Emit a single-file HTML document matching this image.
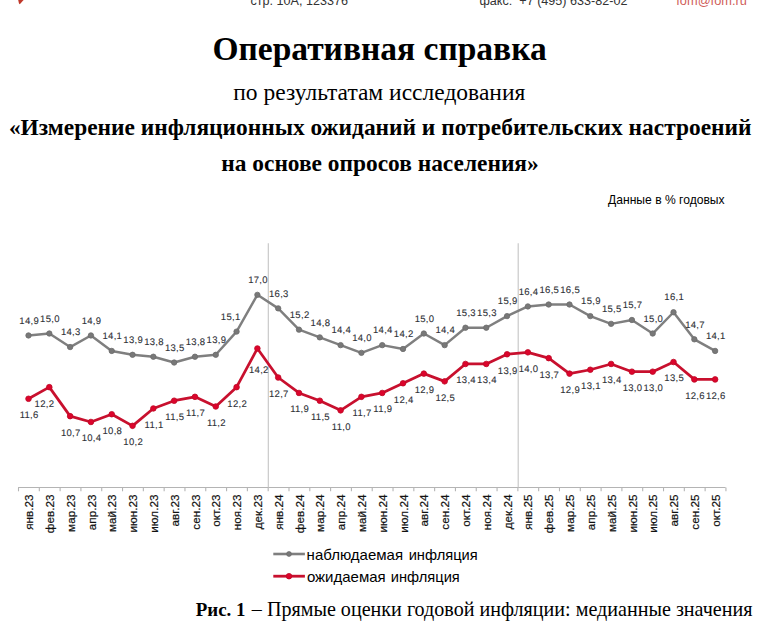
<!DOCTYPE html>
<html><head><meta charset="utf-8"><style>
html,body{margin:0;padding:0;background:#fff;}
body{width:773px;height:630px;overflow:hidden;position:relative;}
svg{position:absolute;left:0;top:0;}
</style></head><body>
<svg width="773" height="630" viewBox="0 0 773 630">
<rect width="773" height="630" fill="#fff"/>
<polygon points="18.2,0 23.6,0 19.8,4.2 19.0,3.6" fill="#c0392b"/>
<g font-family="&quot;Liberation Sans&quot;, sans-serif" font-size="12.6" fill="#333">
<text x="250.5" y="4.8">стр. 10А, 123376</text>
<text x="479.5" y="4.7">факс:&#160; +7 (495) 633-82-02</text>
</g>
<text x="676.3" y="4.7" font-family="&quot;Liberation Sans&quot;, sans-serif" font-size="12.8" fill="#d0605a">fom@fom.ru</text>
<g font-family="&quot;Liberation Serif&quot;, serif" fill="#000" text-anchor="middle">
<text x="379.6" y="60.3" font-size="33.5" font-weight="bold">Оперативная справка</text>
<text x="379.3" y="99.9" font-size="23.5">по результатам исследования</text>
<text x="380.2" y="135.3" font-size="23.4" font-weight="bold">«Измерение инфляционных ожиданий и потребительских настроений</text>
<text x="380.0" y="170.8" font-size="23.4" font-weight="bold">на основе опросов населения»</text>
</g>
<text x="724.6" y="204.2" font-family="&quot;Liberation Sans&quot;, sans-serif" font-size="12.1" fill="#000" text-anchor="end">Данные в % годовых</text>
<line x1="18.1" y1="487.5" x2="725.54" y2="487.5" stroke="#b4b4b4" stroke-width="1.2"/>
<line x1="18.50" y1="487.5" x2="18.50" y2="491.3" stroke="#b4b4b4" stroke-width="1.1"/>
<line x1="39.31" y1="487.5" x2="39.31" y2="491.3" stroke="#b4b4b4" stroke-width="1.1"/>
<line x1="60.11" y1="487.5" x2="60.11" y2="491.3" stroke="#b4b4b4" stroke-width="1.1"/>
<line x1="80.92" y1="487.5" x2="80.92" y2="491.3" stroke="#b4b4b4" stroke-width="1.1"/>
<line x1="101.73" y1="487.5" x2="101.73" y2="491.3" stroke="#b4b4b4" stroke-width="1.1"/>
<line x1="122.53" y1="487.5" x2="122.53" y2="491.3" stroke="#b4b4b4" stroke-width="1.1"/>
<line x1="143.34" y1="487.5" x2="143.34" y2="491.3" stroke="#b4b4b4" stroke-width="1.1"/>
<line x1="164.15" y1="487.5" x2="164.15" y2="491.3" stroke="#b4b4b4" stroke-width="1.1"/>
<line x1="184.96" y1="487.5" x2="184.96" y2="491.3" stroke="#b4b4b4" stroke-width="1.1"/>
<line x1="205.76" y1="487.5" x2="205.76" y2="491.3" stroke="#b4b4b4" stroke-width="1.1"/>
<line x1="226.57" y1="487.5" x2="226.57" y2="491.3" stroke="#b4b4b4" stroke-width="1.1"/>
<line x1="247.38" y1="487.5" x2="247.38" y2="491.3" stroke="#b4b4b4" stroke-width="1.1"/>
<line x1="268.18" y1="487.5" x2="268.18" y2="491.3" stroke="#b4b4b4" stroke-width="1.1"/>
<line x1="288.99" y1="487.5" x2="288.99" y2="491.3" stroke="#b4b4b4" stroke-width="1.1"/>
<line x1="309.80" y1="487.5" x2="309.80" y2="491.3" stroke="#b4b4b4" stroke-width="1.1"/>
<line x1="330.60" y1="487.5" x2="330.60" y2="491.3" stroke="#b4b4b4" stroke-width="1.1"/>
<line x1="351.41" y1="487.5" x2="351.41" y2="491.3" stroke="#b4b4b4" stroke-width="1.1"/>
<line x1="372.22" y1="487.5" x2="372.22" y2="491.3" stroke="#b4b4b4" stroke-width="1.1"/>
<line x1="393.03" y1="487.5" x2="393.03" y2="491.3" stroke="#b4b4b4" stroke-width="1.1"/>
<line x1="413.83" y1="487.5" x2="413.83" y2="491.3" stroke="#b4b4b4" stroke-width="1.1"/>
<line x1="434.64" y1="487.5" x2="434.64" y2="491.3" stroke="#b4b4b4" stroke-width="1.1"/>
<line x1="455.45" y1="487.5" x2="455.45" y2="491.3" stroke="#b4b4b4" stroke-width="1.1"/>
<line x1="476.25" y1="487.5" x2="476.25" y2="491.3" stroke="#b4b4b4" stroke-width="1.1"/>
<line x1="497.06" y1="487.5" x2="497.06" y2="491.3" stroke="#b4b4b4" stroke-width="1.1"/>
<line x1="517.87" y1="487.5" x2="517.87" y2="491.3" stroke="#b4b4b4" stroke-width="1.1"/>
<line x1="538.67" y1="487.5" x2="538.67" y2="491.3" stroke="#b4b4b4" stroke-width="1.1"/>
<line x1="559.48" y1="487.5" x2="559.48" y2="491.3" stroke="#b4b4b4" stroke-width="1.1"/>
<line x1="580.29" y1="487.5" x2="580.29" y2="491.3" stroke="#b4b4b4" stroke-width="1.1"/>
<line x1="601.10" y1="487.5" x2="601.10" y2="491.3" stroke="#b4b4b4" stroke-width="1.1"/>
<line x1="621.90" y1="487.5" x2="621.90" y2="491.3" stroke="#b4b4b4" stroke-width="1.1"/>
<line x1="642.71" y1="487.5" x2="642.71" y2="491.3" stroke="#b4b4b4" stroke-width="1.1"/>
<line x1="663.52" y1="487.5" x2="663.52" y2="491.3" stroke="#b4b4b4" stroke-width="1.1"/>
<line x1="684.32" y1="487.5" x2="684.32" y2="491.3" stroke="#b4b4b4" stroke-width="1.1"/>
<line x1="705.13" y1="487.5" x2="705.13" y2="491.3" stroke="#b4b4b4" stroke-width="1.1"/>
<line x1="725.94" y1="487.5" x2="725.94" y2="491.3" stroke="#b4b4b4" stroke-width="1.1"/>
<line x1="268.30" y1="243.3" x2="268.30" y2="487.5" stroke="#c4c4c4" stroke-width="1.1"/>
<line x1="518.20" y1="243.3" x2="518.20" y2="487.5" stroke="#c4c4c4" stroke-width="1.1"/>
<polyline points="28.50,335.45 49.31,333.52 70.12,347.06 90.92,335.45 111.73,350.93 132.54,354.80 153.35,356.73 174.15,362.53 194.96,356.73 215.77,354.80 236.57,331.59 257.38,294.84 278.19,308.38 298.99,329.65 319.80,337.39 340.61,345.13 361.42,352.86 382.22,345.13 403.03,348.99 423.84,333.52 444.64,345.13 465.45,327.72 486.26,327.72 507.06,316.11 527.87,306.44 548.68,304.51 569.49,304.51 590.29,316.11 611.10,323.85 631.91,319.98 652.71,333.52 673.52,312.24 694.33,339.32 715.13,350.93" fill="none" stroke="#7f7f7f" stroke-width="2.45" stroke-linejoin="round"/>
<circle cx="28.50" cy="335.45" r="2.7" fill="#787878" stroke="#6c6c6c" stroke-width="0.8"/>
<circle cx="49.31" cy="333.52" r="2.7" fill="#787878" stroke="#6c6c6c" stroke-width="0.8"/>
<circle cx="70.12" cy="347.06" r="2.7" fill="#787878" stroke="#6c6c6c" stroke-width="0.8"/>
<circle cx="90.92" cy="335.45" r="2.7" fill="#787878" stroke="#6c6c6c" stroke-width="0.8"/>
<circle cx="111.73" cy="350.93" r="2.7" fill="#787878" stroke="#6c6c6c" stroke-width="0.8"/>
<circle cx="132.54" cy="354.80" r="2.7" fill="#787878" stroke="#6c6c6c" stroke-width="0.8"/>
<circle cx="153.35" cy="356.73" r="2.7" fill="#787878" stroke="#6c6c6c" stroke-width="0.8"/>
<circle cx="174.15" cy="362.53" r="2.7" fill="#787878" stroke="#6c6c6c" stroke-width="0.8"/>
<circle cx="194.96" cy="356.73" r="2.7" fill="#787878" stroke="#6c6c6c" stroke-width="0.8"/>
<circle cx="215.77" cy="354.80" r="2.7" fill="#787878" stroke="#6c6c6c" stroke-width="0.8"/>
<circle cx="236.57" cy="331.59" r="2.7" fill="#787878" stroke="#6c6c6c" stroke-width="0.8"/>
<circle cx="257.38" cy="294.84" r="2.7" fill="#787878" stroke="#6c6c6c" stroke-width="0.8"/>
<circle cx="278.19" cy="308.38" r="2.7" fill="#787878" stroke="#6c6c6c" stroke-width="0.8"/>
<circle cx="298.99" cy="329.65" r="2.7" fill="#787878" stroke="#6c6c6c" stroke-width="0.8"/>
<circle cx="319.80" cy="337.39" r="2.7" fill="#787878" stroke="#6c6c6c" stroke-width="0.8"/>
<circle cx="340.61" cy="345.13" r="2.7" fill="#787878" stroke="#6c6c6c" stroke-width="0.8"/>
<circle cx="361.42" cy="352.86" r="2.7" fill="#787878" stroke="#6c6c6c" stroke-width="0.8"/>
<circle cx="382.22" cy="345.13" r="2.7" fill="#787878" stroke="#6c6c6c" stroke-width="0.8"/>
<circle cx="403.03" cy="348.99" r="2.7" fill="#787878" stroke="#6c6c6c" stroke-width="0.8"/>
<circle cx="423.84" cy="333.52" r="2.7" fill="#787878" stroke="#6c6c6c" stroke-width="0.8"/>
<circle cx="444.64" cy="345.13" r="2.7" fill="#787878" stroke="#6c6c6c" stroke-width="0.8"/>
<circle cx="465.45" cy="327.72" r="2.7" fill="#787878" stroke="#6c6c6c" stroke-width="0.8"/>
<circle cx="486.26" cy="327.72" r="2.7" fill="#787878" stroke="#6c6c6c" stroke-width="0.8"/>
<circle cx="507.06" cy="316.11" r="2.7" fill="#787878" stroke="#6c6c6c" stroke-width="0.8"/>
<circle cx="527.87" cy="306.44" r="2.7" fill="#787878" stroke="#6c6c6c" stroke-width="0.8"/>
<circle cx="548.68" cy="304.51" r="2.7" fill="#787878" stroke="#6c6c6c" stroke-width="0.8"/>
<circle cx="569.49" cy="304.51" r="2.7" fill="#787878" stroke="#6c6c6c" stroke-width="0.8"/>
<circle cx="590.29" cy="316.11" r="2.7" fill="#787878" stroke="#6c6c6c" stroke-width="0.8"/>
<circle cx="611.10" cy="323.85" r="2.7" fill="#787878" stroke="#6c6c6c" stroke-width="0.8"/>
<circle cx="631.91" cy="319.98" r="2.7" fill="#787878" stroke="#6c6c6c" stroke-width="0.8"/>
<circle cx="652.71" cy="333.52" r="2.7" fill="#787878" stroke="#6c6c6c" stroke-width="0.8"/>
<circle cx="673.52" cy="312.24" r="2.7" fill="#787878" stroke="#6c6c6c" stroke-width="0.8"/>
<circle cx="694.33" cy="339.32" r="2.7" fill="#787878" stroke="#6c6c6c" stroke-width="0.8"/>
<circle cx="715.13" cy="350.93" r="2.7" fill="#787878" stroke="#6c6c6c" stroke-width="0.8"/>
<polyline points="28.50,398.76 49.31,387.16 70.12,416.17 90.92,421.97 111.73,414.24 132.54,425.84 153.35,408.43 174.15,400.70 194.96,396.83 215.77,406.50 236.57,387.16 257.38,348.47 278.19,377.49 298.99,392.96 319.80,400.70 340.61,410.37 361.42,396.83 382.22,392.96 403.03,383.29 423.84,373.62 444.64,381.36 465.45,363.95 486.26,363.95 507.06,354.28 527.87,352.34 548.68,358.14 569.49,373.62 590.29,369.75 611.10,363.95 631.91,371.68 652.71,371.68 673.52,362.01 694.33,379.42 715.13,379.42" fill="none" stroke="#c8102e" stroke-width="2.75" stroke-linejoin="round"/>
<circle cx="28.50" cy="398.76" r="2.8" fill="#dc042c" stroke="#be0a26" stroke-width="0.8"/>
<circle cx="49.31" cy="387.16" r="2.8" fill="#dc042c" stroke="#be0a26" stroke-width="0.8"/>
<circle cx="70.12" cy="416.17" r="2.8" fill="#dc042c" stroke="#be0a26" stroke-width="0.8"/>
<circle cx="90.92" cy="421.97" r="2.8" fill="#dc042c" stroke="#be0a26" stroke-width="0.8"/>
<circle cx="111.73" cy="414.24" r="2.8" fill="#dc042c" stroke="#be0a26" stroke-width="0.8"/>
<circle cx="132.54" cy="425.84" r="2.8" fill="#dc042c" stroke="#be0a26" stroke-width="0.8"/>
<circle cx="153.35" cy="408.43" r="2.8" fill="#dc042c" stroke="#be0a26" stroke-width="0.8"/>
<circle cx="174.15" cy="400.70" r="2.8" fill="#dc042c" stroke="#be0a26" stroke-width="0.8"/>
<circle cx="194.96" cy="396.83" r="2.8" fill="#dc042c" stroke="#be0a26" stroke-width="0.8"/>
<circle cx="215.77" cy="406.50" r="2.8" fill="#dc042c" stroke="#be0a26" stroke-width="0.8"/>
<circle cx="236.57" cy="387.16" r="2.8" fill="#dc042c" stroke="#be0a26" stroke-width="0.8"/>
<circle cx="257.38" cy="348.47" r="2.8" fill="#dc042c" stroke="#be0a26" stroke-width="0.8"/>
<circle cx="278.19" cy="377.49" r="2.8" fill="#dc042c" stroke="#be0a26" stroke-width="0.8"/>
<circle cx="298.99" cy="392.96" r="2.8" fill="#dc042c" stroke="#be0a26" stroke-width="0.8"/>
<circle cx="319.80" cy="400.70" r="2.8" fill="#dc042c" stroke="#be0a26" stroke-width="0.8"/>
<circle cx="340.61" cy="410.37" r="2.8" fill="#dc042c" stroke="#be0a26" stroke-width="0.8"/>
<circle cx="361.42" cy="396.83" r="2.8" fill="#dc042c" stroke="#be0a26" stroke-width="0.8"/>
<circle cx="382.22" cy="392.96" r="2.8" fill="#dc042c" stroke="#be0a26" stroke-width="0.8"/>
<circle cx="403.03" cy="383.29" r="2.8" fill="#dc042c" stroke="#be0a26" stroke-width="0.8"/>
<circle cx="423.84" cy="373.62" r="2.8" fill="#dc042c" stroke="#be0a26" stroke-width="0.8"/>
<circle cx="444.64" cy="381.36" r="2.8" fill="#dc042c" stroke="#be0a26" stroke-width="0.8"/>
<circle cx="465.45" cy="363.95" r="2.8" fill="#dc042c" stroke="#be0a26" stroke-width="0.8"/>
<circle cx="486.26" cy="363.95" r="2.8" fill="#dc042c" stroke="#be0a26" stroke-width="0.8"/>
<circle cx="507.06" cy="354.28" r="2.8" fill="#dc042c" stroke="#be0a26" stroke-width="0.8"/>
<circle cx="527.87" cy="352.34" r="2.8" fill="#dc042c" stroke="#be0a26" stroke-width="0.8"/>
<circle cx="548.68" cy="358.14" r="2.8" fill="#dc042c" stroke="#be0a26" stroke-width="0.8"/>
<circle cx="569.49" cy="373.62" r="2.8" fill="#dc042c" stroke="#be0a26" stroke-width="0.8"/>
<circle cx="590.29" cy="369.75" r="2.8" fill="#dc042c" stroke="#be0a26" stroke-width="0.8"/>
<circle cx="611.10" cy="363.95" r="2.8" fill="#dc042c" stroke="#be0a26" stroke-width="0.8"/>
<circle cx="631.91" cy="371.68" r="2.8" fill="#dc042c" stroke="#be0a26" stroke-width="0.8"/>
<circle cx="652.71" cy="371.68" r="2.8" fill="#dc042c" stroke="#be0a26" stroke-width="0.8"/>
<circle cx="673.52" cy="362.01" r="2.8" fill="#dc042c" stroke="#be0a26" stroke-width="0.8"/>
<circle cx="694.33" cy="379.42" r="2.8" fill="#dc042c" stroke="#be0a26" stroke-width="0.8"/>
<circle cx="715.13" cy="379.42" r="2.8" fill="#dc042c" stroke="#be0a26" stroke-width="0.8"/>
<g font-family="&quot;Liberation Sans&quot;, sans-serif" font-size="9.5" style="text-rendering:geometricPrecision" letter-spacing="0.3" fill="#2e3036" stroke="#2e3036" stroke-width="0.1" text-anchor="middle"><text x="29.15" y="323.65">14,9</text><text x="49.96" y="321.72">15,0</text><text x="70.77" y="335.26">14,3</text><text x="91.57" y="323.65">14,9</text><text x="112.38" y="339.13">14,1</text><text x="133.19" y="343.00">13,9</text><text x="154.00" y="344.93">13,8</text><text x="174.80" y="350.73">13,5</text><text x="195.61" y="344.93">13,8</text><text x="216.42" y="343.00">13,9</text><text x="230.72" y="319.79">15,1</text><text x="258.03" y="283.04">17,0</text><text x="278.84" y="296.58">16,3</text><text x="299.64" y="317.85">15,2</text><text x="320.45" y="325.59">14,8</text><text x="341.26" y="333.33">14,4</text><text x="362.07" y="341.06">14,0</text><text x="382.87" y="333.33">14,4</text><text x="403.68" y="337.19">14,2</text><text x="424.49" y="321.72">15,0</text><text x="445.29" y="333.33">14,4</text><text x="466.10" y="315.92">15,3</text><text x="486.91" y="315.92">15,3</text><text x="507.71" y="304.31">15,9</text><text x="528.52" y="294.64">16,4</text><text x="549.33" y="292.71">16,5</text><text x="570.14" y="292.71">16,5</text><text x="590.94" y="304.31">15,9</text><text x="611.75" y="312.05">15,5</text><text x="632.56" y="308.18">15,7</text><text x="653.36" y="321.72">15,0</text><text x="674.17" y="300.44">16,1</text><text x="694.98" y="327.52">14,7</text><text x="715.78" y="339.13">14,1</text><text x="29.15" y="418.16">11,6</text><text x="44.46" y="406.56">12,2</text><text x="70.77" y="435.57">10,7</text><text x="91.57" y="441.37">10,4</text><text x="112.38" y="433.64">10,8</text><text x="133.19" y="445.24">10,2</text><text x="154.00" y="427.83">11,1</text><text x="174.80" y="420.10">11,5</text><text x="195.61" y="416.23">11,7</text><text x="216.42" y="425.90">11,2</text><text x="237.22" y="406.56">12,2</text><text x="258.83" y="372.87">14,2</text><text x="278.84" y="396.89">12,7</text><text x="299.64" y="412.36">11,9</text><text x="320.45" y="420.10">11,5</text><text x="341.26" y="429.77">11,0</text><text x="362.07" y="416.23">11,7</text><text x="382.87" y="412.36">11,9</text><text x="403.68" y="402.69">12,4</text><text x="424.49" y="393.02">12,9</text><text x="445.29" y="400.75">12,5</text><text x="466.10" y="383.35">13,4</text><text x="486.91" y="383.35">13,4</text><text x="507.71" y="373.68">13,9</text><text x="528.52" y="371.74">14,0</text><text x="549.33" y="377.54">13,7</text><text x="570.14" y="393.02">12,9</text><text x="590.94" y="389.15">13,1</text><text x="611.75" y="383.35">13,4</text><text x="632.56" y="391.08">13,0</text><text x="653.36" y="391.08">13,0</text><text x="674.17" y="381.41">13,5</text><text x="694.98" y="398.82">12,6</text><text x="715.78" y="398.82">12,6</text></g>
<g font-family="&quot;Liberation Sans&quot;, sans-serif" font-size="11.7" fill="#111" stroke="#111" stroke-width="0.2" text-anchor="end"><text transform="translate(33.10,494.6) rotate(-90)">янв.23</text><text transform="translate(53.91,494.6) rotate(-90)">фев.23</text><text transform="translate(74.72,494.6) rotate(-90)">мар.23</text><text transform="translate(95.52,494.6) rotate(-90)">апр.23</text><text transform="translate(116.33,494.6) rotate(-90)">май.23</text><text transform="translate(137.14,494.6) rotate(-90)">июн.23</text><text transform="translate(157.95,494.6) rotate(-90)">июл.23</text><text transform="translate(178.75,494.6) rotate(-90)">авг.23</text><text transform="translate(199.56,494.6) rotate(-90)">сен.23</text><text transform="translate(220.37,494.6) rotate(-90)">окт.23</text><text transform="translate(241.17,494.6) rotate(-90)">ноя.23</text><text transform="translate(261.98,494.6) rotate(-90)">дек.23</text><text transform="translate(282.79,494.6) rotate(-90)">янв.24</text><text transform="translate(303.59,494.6) rotate(-90)">фев.24</text><text transform="translate(324.40,494.6) rotate(-90)">мар.24</text><text transform="translate(345.21,494.6) rotate(-90)">апр.24</text><text transform="translate(366.02,494.6) rotate(-90)">май.24</text><text transform="translate(386.82,494.6) rotate(-90)">июн.24</text><text transform="translate(407.63,494.6) rotate(-90)">июл.24</text><text transform="translate(428.44,494.6) rotate(-90)">авг.24</text><text transform="translate(449.24,494.6) rotate(-90)">сен.24</text><text transform="translate(470.05,494.6) rotate(-90)">окт.24</text><text transform="translate(490.86,494.6) rotate(-90)">ноя.24</text><text transform="translate(511.66,494.6) rotate(-90)">дек.24</text><text transform="translate(532.47,494.6) rotate(-90)">янв.25</text><text transform="translate(553.28,494.6) rotate(-90)">фев.25</text><text transform="translate(574.09,494.6) rotate(-90)">мар.25</text><text transform="translate(594.89,494.6) rotate(-90)">апр.25</text><text transform="translate(615.70,494.6) rotate(-90)">май.25</text><text transform="translate(636.51,494.6) rotate(-90)">июн.25</text><text transform="translate(657.31,494.6) rotate(-90)">июл.25</text><text transform="translate(678.12,494.6) rotate(-90)">авг.25</text><text transform="translate(698.93,494.6) rotate(-90)">сен.25</text><text transform="translate(719.73,494.6) rotate(-90)">окт.25</text></g>
<g>
<line x1="273.3" y1="554" x2="304.9" y2="554" stroke="#7f7f7f" stroke-width="2.6"/>
<circle cx="289" cy="554" r="2.4" fill="#787878" stroke="#6c6c6c" stroke-width="0.8"/>
<line x1="273.3" y1="576.2" x2="304.9" y2="576.2" stroke="#c8102e" stroke-width="2.8"/>
<circle cx="289" cy="576.2" r="2.8" fill="#dc042c" stroke="#be0a26" stroke-width="0.8"/>
</g>
<g font-family="&quot;Liberation Sans&quot;, sans-serif" font-size="15" fill="#000">
<text x="306.6" y="560.2">наблюдаемая</text>
<text x="306.9" y="581.6">ожидаемая</text>
<text x="408.7" y="560.2" textLength="69" lengthAdjust="spacingAndGlyphs">инфляция</text>
<text x="390.8" y="581.6" textLength="69" lengthAdjust="spacingAndGlyphs">инфляция</text>
</g>
<text x="195.8" y="615.9" font-family="&quot;Liberation Serif&quot;, serif" font-size="18.9" fill="#000" font-weight="bold">Рис. 1</text>
<text x="752.5" y="615.9" font-family="&quot;Liberation Serif&quot;, serif" font-size="20.1" fill="#000" text-anchor="end">– Прямые оценки годовой инфляции: медианные значения</text>
</svg>
</body></html>
